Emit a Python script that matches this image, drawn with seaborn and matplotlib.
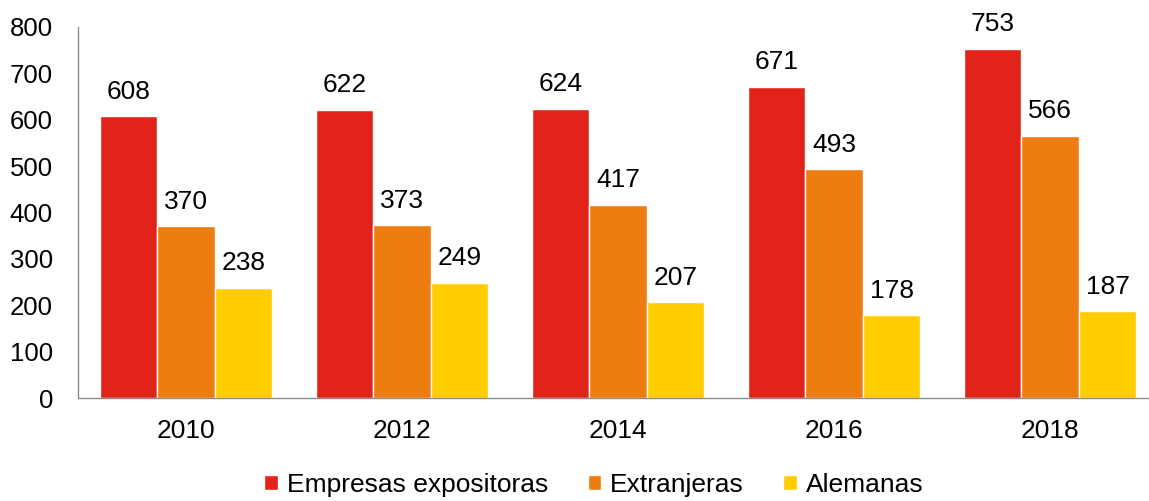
import matplotlib
matplotlib.use("Agg")
import matplotlib.pyplot as plt
import seaborn as sns
import pandas as pd

years = ["2010", "2012", "2014", "2016", "2018"]
series = ["Empresas expositoras", "Extranjeras", "Alemanas"]
expositoras = [608, 622, 624, 671, 753]
extranjeras = [370, 373, 417, 493, 566]
alemanas = [238, 249, 207, 178, 187]
colors = ["#E2231A", "#EE7D11", "#FFCC00"]

df = pd.DataFrame({
    "year": years * 3,
    "serie": [series[0]] * 5 + [series[1]] * 5 + [series[2]] * 5,
    "value": expositoras + extranjeras + alemanas,
})

sns.set_style("white")
plt.rcParams['font.family'] = ['Liberation Sans', 'DejaVu Sans']
plt.rcParams['text.color'] = 'black'
plt.rcParams['xtick.color'] = 'black'
plt.rcParams['ytick.color'] = 'black'

fig = plt.figure(figsize=(11.49, 5.01), dpi=100)
ax = fig.add_axes([78 / 1149, 1 - 398 / 501, 1080 / 1149, 371 / 501])

sns.barplot(data=df, x="year", y="value", hue="serie", palette=colors,
            width=0.8, saturation=1, ax=ax, legend=True)

for c in ax.containers:
    ax.bar_label(c, padding=9, fontsize=19, color="black")

ax.set_ylim(0, 800)
ax.set_xlim(-0.5, 4.5)
ax.set_yticks(range(0, 801, 100))
ax.set_xlabel("")
ax.set_ylabel("")
ax.tick_params(axis="both", labelsize=19, length=0, labelcolor="black")
ax.tick_params(axis="y", labelsize=18.5)
ax.tick_params(axis="x", pad=15)
ax.tick_params(axis="y", pad=18)
for s in ["top", "right"]:
    ax.spines[s].set_visible(False)
for s in ["left", "bottom"]:
    ax.spines[s].set_color("#8c8c8c")
    ax.spines[s].set_linewidth(1)

leg = ax.legend(loc="center", bbox_to_anchor=((594 - 78) / 1080, -(485 - 398) / 371),
                ncol=3, frameon=False, fontsize=19, handlelength=0.5,
                handleheight=0.5, handletextpad=0.35, columnspacing=1.5,
                borderpad=0)
for t in leg.get_texts():
    t.set_color("black")

fig.savefig("out.png", dpi=100)
